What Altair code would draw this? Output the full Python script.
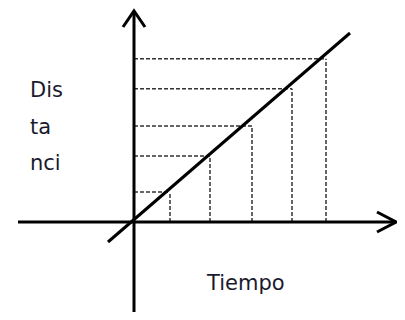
import altair as alt
import pandas as pd

# Data values (time, distance)
tiempo = [0.9, 1.9, 2.95, 3.95, 4.8]
distancia = [0.75, 1.65, 2.4, 3.33, 4.08]

# Main straight line endpoints
line_x = [-0.65, 5.4]
line_y = [-0.5, 4.725]

# Axis extents
x_axis_x = [-2.9, 6.55]
y_axis_y = [-2.25, 5.275]

# Arrow chevrons
arrow_id = ["r", "r", "r", "u", "u", "u"]
arrow_x = [6.075, 6.55, 6.075, -0.275, 0.0, 0.275]
arrow_y = [0.25, 0.0, -0.25, 4.875, 5.275, 4.875]
arrow_ord = [0, 1, 2, 0, 1, 2]

# Labels
labels = ["Dis", "ta", "nci", "Tiempo"]
label_x = [-2.6, -2.6, -2.6, 1.825]
label_y = [3.125, 2.2, 1.3, -1.7]

XD = [-3.15, 6.575]
YD = [-2.25, 5.35]

xs = alt.Scale(domain=XD, nice=False, zero=False)
ys = alt.Scale(domain=YD, nice=False, zero=False)

pts = pd.DataFrame({"t": tiempo, "d": distancia, "z": [0.0] * len(tiempo)})

vert = alt.Chart(pts).mark_rule(stroke="#333333", strokeWidth=1.5, strokeDash=[4, 2]).encode(
    x=alt.X("t:Q", scale=xs, axis=None),
    y=alt.Y("z:Q", scale=ys, axis=None),
    y2="d:Q",
)
horiz = alt.Chart(pts).mark_rule(stroke="#333333", strokeWidth=1.5, strokeDash=[4, 2]).encode(
    x=alt.X("z:Q", scale=xs, axis=None),
    x2="t:Q",
    y=alt.Y("d:Q", scale=ys, axis=None),
)

axes_df = pd.DataFrame({"x1": [x_axis_x[0], 0.0], "x2": [x_axis_x[1], 0.0],
                        "y1": [0.0, y_axis_y[0]], "y2": [0.0, y_axis_y[1]]})
axes = alt.Chart(axes_df).mark_rule(stroke="black", strokeWidth=3).encode(
    x=alt.X("x1:Q", scale=xs, axis=None), x2="x2:Q",
    y=alt.Y("y1:Q", scale=ys, axis=None), y2="y2:Q",
)

arrows_df = pd.DataFrame({"id": arrow_id, "x": arrow_x, "y": arrow_y, "o": arrow_ord})
arrows = alt.Chart(arrows_df).mark_line(stroke="black", strokeWidth=3, strokeJoin="miter").encode(
    x=alt.X("x:Q", scale=xs, axis=None),
    y=alt.Y("y:Q", scale=ys, axis=None),
    detail="id:N",
    order="o:Q",
)

line_df = pd.DataFrame({"x": line_x, "y": line_y})
main_line = alt.Chart(line_df).mark_line(stroke="black", strokeWidth=3).encode(
    x=alt.X("x:Q", scale=xs, axis=None),
    y=alt.Y("y:Q", scale=ys, axis=None),
)

lab_df = pd.DataFrame({"label": labels, "x": label_x, "y": label_y})
texts = alt.Chart(lab_df).mark_text(
    align="left", baseline="alphabetic", font="DejaVu Sans", fontSize=21, color="#1a1a2e"
).encode(
    x=alt.X("x:Q", scale=xs, axis=None),
    y=alt.Y("y:Q", scale=ys, axis=None),
    text="label:N",
)

chart = alt.layer(vert, horiz, axes, arrows, main_line, texts).properties(
    width=389, height=304, padding=0, autosize=alt.AutoSizeParams(type="none")
).configure_view(stroke=None, strokeWidth=0)

chart.save("out.html", embed_options={"renderer": "svg", "actions": False})
